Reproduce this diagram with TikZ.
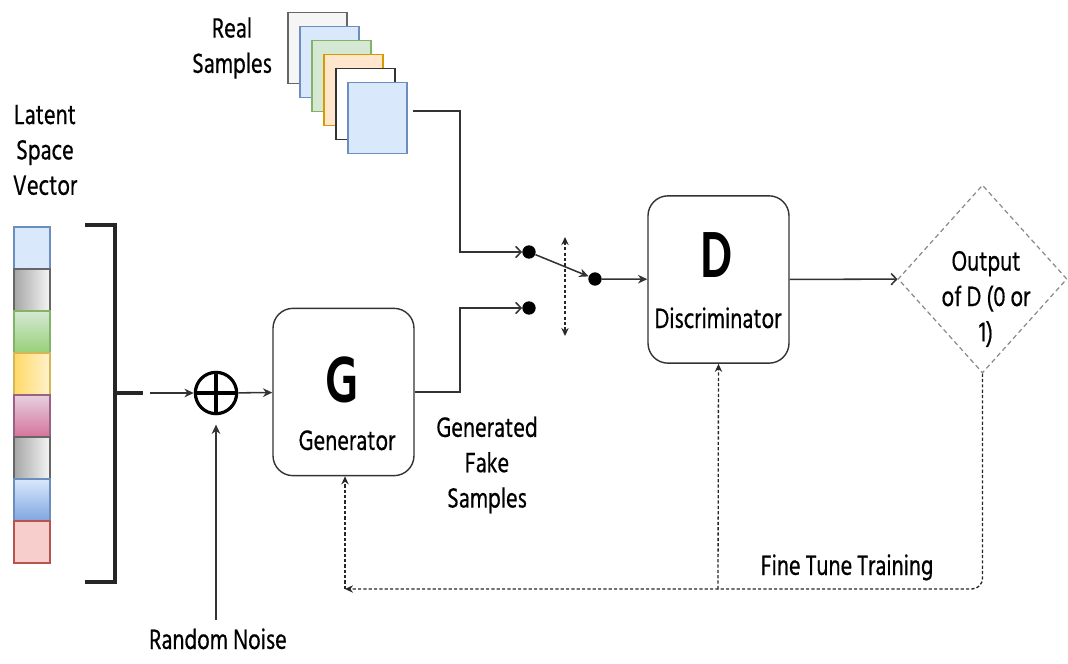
\documentclass[tikz,border=0pt]{standalone}
\usepackage{fontspec}
\setmainfont{Hind Siliguri}[FakeStretch=0.78,FakeBold=0.5]
\newfontfamily\bigfont{Hind Siliguri}[FakeStretch=0.72]
\usetikzlibrary{arrows.meta,shapes.geometric,calc}
\newcommand\mylbl{\fontsize{21.5}{26.5}\selectfont}
\newcommand\mybig{\bigfont\fontsize{50}{50}\selectfont\bfseries}
\definecolor{ln}{HTML}{333333}
\definecolor{grayF}{HTML}{F5F5F5}
\definecolor{grayS}{HTML}{666666}
\definecolor{grayD}{HTML}{A6A6A6}
\definecolor{blueF}{HTML}{DAE8FC}
\definecolor{blueS}{HTML}{6C8EBF}
\definecolor{blueD}{HTML}{7EA6E0}
\definecolor{greenF}{HTML}{D5E8D4}
\definecolor{greenS}{HTML}{82B366}
\definecolor{greenD}{HTML}{97D077}
\definecolor{orangeF}{HTML}{FFE6CC}
\definecolor{orangeS}{HTML}{D79B00}
\definecolor{yelD}{HTML}{FFD966}
\definecolor{yelF}{HTML}{FFF2CC}
\definecolor{yelS}{HTML}{D6B656}
\definecolor{pinkF}{HTML}{E6D0DE}
\definecolor{pinkD}{HTML}{D5739D}
\definecolor{pinkS}{HTML}{996185}
\definecolor{redF}{HTML}{F8CECC}
\definecolor{redS}{HTML}{B85450}
\definecolor{dia}{HTML}{888888}
\tikzset{
  sample/.style={draw, line width=0.9pt, minimum width=44.25pt, minimum height=53.25pt, inner sep=0pt},
  cell/.style={draw, line width=0.8pt, minimum width=27pt, minimum height=31.5pt, inner sep=0pt},
  box/.style={draw=ln, line width=1.05pt, rounded corners=15pt, minimum width=105.75pt, minimum height=125.5pt, inner sep=0pt},
  dot/.style={circle, fill=black, minimum size=10pt, inner sep=0pt},
  con/.style={draw=ln, line width=1.15pt},
  solidtip/.style={con, -{Stealth[length=7pt,width=6.5pt]}},
  opentip/.style={con, -{Straight Barb[length=4pt,width=8.5pt]}},
  fb/.style={draw=black!85, line width=1pt, dash pattern=on 2.4pt off 1.6pt},
  lbl/.style={font=\mylbl, align=center, inner sep=0pt},
  lbl1/.style={font=\mylbl, inner sep=0pt}
}
\begin{document}
\begin{tikzpicture}[x=0.75pt,y=-0.75pt]
\useasboundingbox (0,0) rectangle (1068,664);

% real samples stack
\node[sample, fill=grayF, draw=grayS] (R1) at (317.5,48) {};
\node[sample, fill=blueF, draw=blueS] (R2) at (329.5,62) {};
\node[sample, fill=greenF, draw=greenS] (R3) at (341.5,76) {};
\node[sample, fill=orangeF, draw=orangeS] (R4) at (353.5,90) {};
\node[sample, fill=white, draw=ln] (R5) at (365.5,104) {};
\node[sample, fill=blueF, draw=blueS] (R6) at (377.5,118) {};
\node[lbl] (realtxt) at (232,48) {Real\\Samples};

% latent vector
\node[lbl] (lat) at (45,150) {Latent\\Space\\Vector};
\node[cell, fill=blueF, draw=blueS] (L1) at (32,248) {};
\node[cell, left color=grayD, right color=grayF, draw=grayS] (L2) at (32,290) {};
\node[cell, top color=greenF, bottom color=greenD, draw=greenS] (L3) at (32,332) {};
\node[cell, left color=yelD, right color=yelF, draw=yelS] (L4) at (32,374) {};
\node[cell, top color=pinkF, bottom color=pinkD, draw=pinkS] (L5) at (32,416) {};
\node[cell, left color=grayD, right color=grayF, draw=grayS] (L6) at (32,458) {};
\node[cell, top color=blueF, bottom color=blueD, draw=blueS] (L7) at (32,500) {};
\node[cell, fill=redF, draw=redS] (L8) at (32,542) {};

% bracket
\draw[line width=2.4pt, black!85] (85,225) -- (115,225) -- (115,582) -- (85,582);
\draw[line width=2.4pt, black!85] (115,393) -- (143,393);
\coordinate (br) at (150,393);

% sum
\node[circle, draw=black, line width=2.4pt, minimum size=31pt, inner sep=0pt] (sum) at (216,393) {};
\draw[line width=2.4pt] (sum.north) -- (sum.south) (sum.west) -- (sum.east);
\draw[solidtip] (br) -- (sum);
\coordinate (rn) at (216,620);
\draw[solidtip] (rn) -- ([yshift=-7pt]sum.south);
\node[lbl1, anchor=base, text depth=0pt] (rntxt) at (218,649) {Random Noise};

% generator
\node[box] (G) at (343.5,392) {};
\node[font=\mybig, inner sep=0pt] (Gl) at (342,380) {G};
\node[lbl1, anchor=base] (Gt) at (347,450) {Generator};
\draw[solidtip] (sum) -- (G);
\node[lbl] (gfs) at (487,465) {Generated\\Fake\\Samples};

% switch
\node[dot] (s1) at (529,252) {};
\node[dot] (s2) at (529,308) {};
\node[dot] (s3) at (595,279) {};
\draw[opentip] ([shift={(5,-7)}]R6.east) -| (460,252) -- (s1);
\draw[opentip] (G.east) -| (460,308) -- (s2);
\draw[solidtip] (s1) -- (s3);
\coordinate (sw1) at (565,237);
\coordinate (sw2) at (565,336);
\draw[fb, {Stealth[length=6pt,width=5.5pt]}-{Stealth[length=6pt,width=5.5pt]}] (sw1) -- (sw2);

% discriminator
\node[box] (D) at (718.5,279.5) {};
\node[font=\mybig, inner sep=0pt] (Dl) at (717,255) {D};
\node[lbl1, anchor=base] (Dt) at (718,328) {Discriminator};
\draw[solidtip] (s3) -- (D);

% output
\node[diamond, draw=dia, line width=0.9pt, dash pattern=on 3.5pt off 2.5pt, minimum width=126.75pt, minimum height=141pt, inner sep=0pt] (O) at (982.5,279) {};
\node[lbl] (Ot) at (986,299) {Output\\of D (0 or\\1)};
\draw[opentip] (D) -- (O);

% feedback
\coordinate (c1) at (345,589);
\coordinate (c2) at (718,589);
\draw[fb, -{Stealth[length=6pt,width=5.5pt]}, rounded corners=8pt] (O.south) |- (c1);
\draw[fb, -{Stealth[length=6pt,width=5.5pt]}] (c1) -- (c1 |- G.south);
\draw[fb, -{Stealth[length=6pt,width=5.5pt]}] (c2) -- (D.south);
\node[lbl1, anchor=base] (ft) at (847,575) {Fine Tune Training};
\end{tikzpicture}
\end{document}
